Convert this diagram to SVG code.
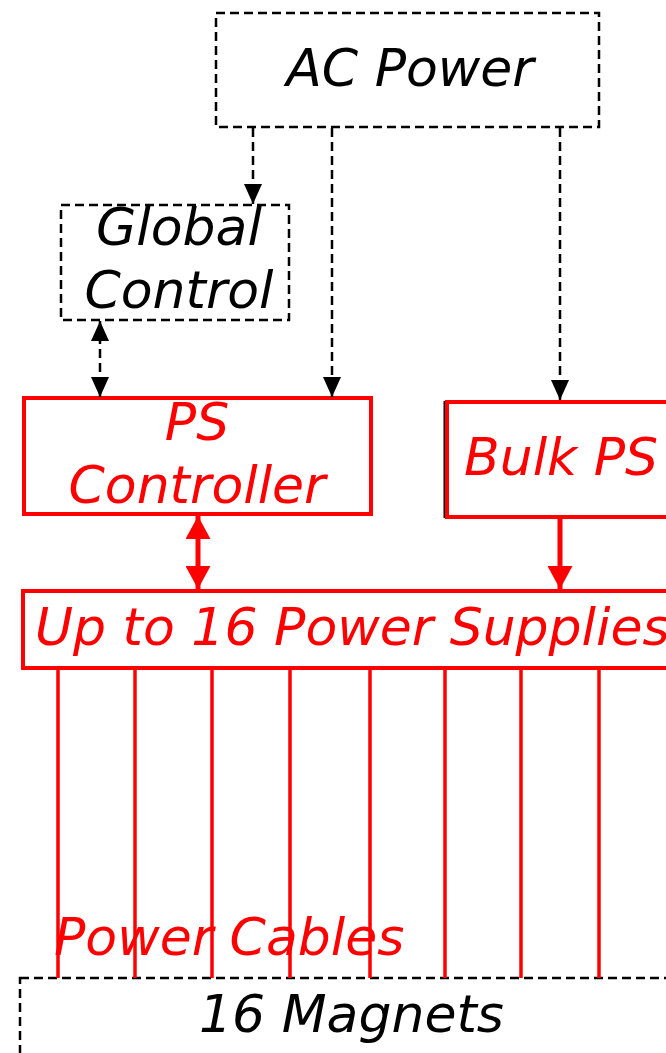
<svg xmlns="http://www.w3.org/2000/svg" width="666" height="1053" viewBox="0 0 666 1053">
<style>
.dbox{fill:#fff;stroke:#000;stroke-width:2.5;stroke-dasharray:9,5}
.rbox{fill:#fff;stroke:#f00;stroke-width:4}
.t{font-family:"DejaVu Sans",Verdana,sans-serif;font-style:italic;font-size:52px}
.k{fill:#000}
.r{fill:#f00}
.dl{stroke:#000;stroke-width:2.5;stroke-dasharray:9,5;fill:none}
.rl{stroke:#f00;stroke-width:5;fill:none}
.cb{stroke:#f00;stroke-width:3.5;fill:none}
</style>
<defs>
<marker id="ka" markerUnits="userSpaceOnUse" markerWidth="20" markerHeight="18" viewBox="0 0 20 18" refX="20" refY="9" orient="auto-start-reverse"><path d="M0,0 L20,9 L0,18 z" fill="#000"/></marker>
<marker id="ra" markerUnits="userSpaceOnUse" markerWidth="23" markerHeight="25" viewBox="0 0 23 25" refX="23" refY="12.5" orient="auto-start-reverse"><path d="M0,0 L23,12.5 L0,25 z" fill="#f00"/></marker>
</defs>
<g id="ac-power"><rect class="dbox" x="216" y="13" width="383" height="114"/><text class="t k" x="410" y="86" text-anchor="middle">AC Power</text></g>
<g id="global-control"><rect class="dbox" x="61" y="205" width="228" height="115"/><text class="t k" x="179" y="245" text-anchor="middle">Global</text><text class="t k" x="179" y="308" text-anchor="middle">Control</text></g>
<g id="ps-controller"><rect class="rbox" x="24" y="398" width="347" height="116"/><text class="t r" x="197" y="440" text-anchor="middle">PS</text><text class="t r" x="197" y="503" text-anchor="middle">Controller</text></g>
<g id="bulk-ps"><line x1="444.5" y1="401" x2="444.5" y2="518" stroke="#000" stroke-width="2"/><rect class="rbox" x="447" y="402" width="240" height="115"/><text class="t r" x="464" y="475">Bulk PS</text></g>
<g id="power-supplies"><rect class="rbox" x="23" y="591" width="680" height="77"/><text class="t r" x="35" y="645">Up to 16 Power Supplies</text></g>
<g id="magnets"><rect class="dbox" x="20" y="978" width="680" height="100"/><text class="t k" x="199" y="1032">16 Magnets</text></g>
<g id="connectors">
<line class="dl" x1="253" y1="128" x2="253" y2="204" marker-end="url(#ka)"/>
<line class="dl" x1="332" y1="128" x2="332" y2="397" marker-end="url(#ka)"/>
<line class="dl" x1="560" y1="128" x2="560" y2="400" marker-end="url(#ka)"/>
<line class="dl" x1="100" y1="321" x2="100" y2="397" marker-start="url(#ka)" marker-end="url(#ka)"/>
<line class="rl" x1="198" y1="516" x2="198" y2="589" marker-start="url(#ra)" marker-end="url(#ra)"/>
<line class="rl" x1="560" y1="519" x2="560" y2="589" marker-end="url(#ra)"/>
<line class="cb" x1="58" y1="670" x2="58" y2="978"/>
<line class="cb" x1="135" y1="670" x2="135" y2="978"/>
<line class="cb" x1="212" y1="670" x2="212" y2="978"/>
<line class="cb" x1="290" y1="670" x2="290" y2="978"/>
<line class="cb" x1="370" y1="670" x2="370" y2="978"/>
<line class="cb" x1="445" y1="670" x2="445" y2="978"/>
<line class="cb" x1="521" y1="670" x2="521" y2="978"/>
<line class="cb" x1="599" y1="670" x2="599" y2="978"/>
</g>
<text class="t r" x="54" y="955">Power Cables</text>
</svg>
